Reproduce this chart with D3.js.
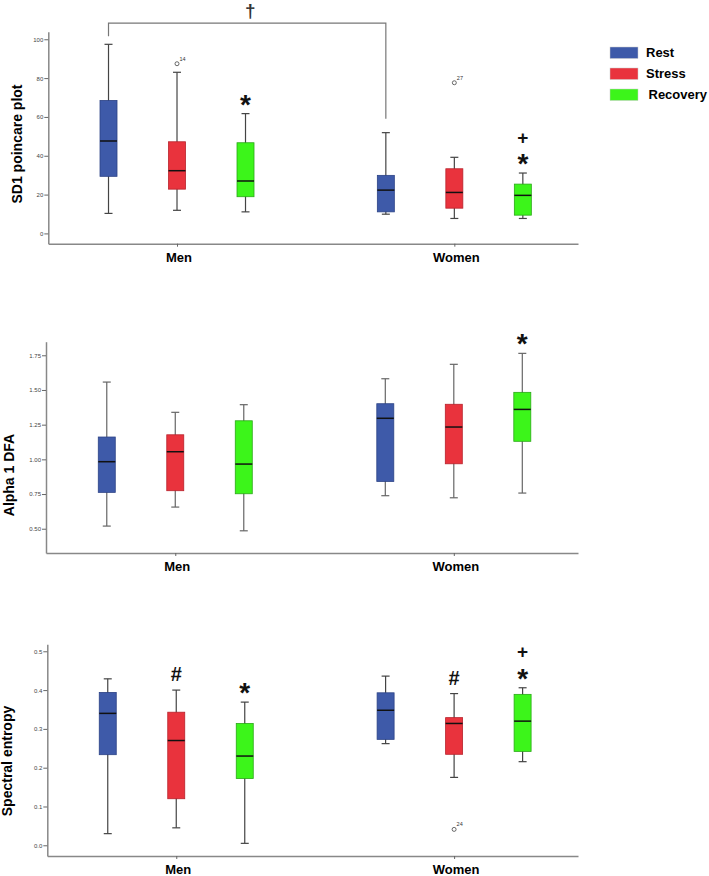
<!DOCTYPE html>
<html>
<head>
<meta charset="utf-8">
<script src="https://cdn.jsdelivr.net/npm/d3@7"></script>
<style>
  body { margin: 0; background: #fff; }
  text { font-family: "Liberation Sans", Arial, sans-serif; }
</style>
</head>
<body>
<div id="chart"></div>
<script>
const groups = ["Men", "Women"];
const series = ["Rest", "Stress", "Recovery"];

// five-number summaries [min, q1, median, q3, max], one row per group (Men, Women)
const sd1Rest = [[10.3, 29.4, 47.6, 68.5, 97.4], [9.9, 11.1, 22.3, 29.9, 51.9]];
const sd1Stress = [[11.9, 22.8, 32.3, 47.2, 83.0], [7.7, 13.0, 21.1, 33.3, 39.2]];
const sd1Recovery = [[11.1, 18.9, 27.0, 46.7, 61.7], [7.7, 9.4, 19.6, 25.4, 31.1]];
const sd1Ticks = [0, 20, 40, 60, 80, 100];
const sd1Outliers = [["Men", "Stress", 87.4, "14"], ["Women", "Stress", 77.6, "27"]];
const sd1Marks = [["Men", "Recovery", ["*"]], ["Women", "Recovery", ["*", "+"]]];
const sd1Bracket = [["Men", "Rest"], ["Women", "Rest"], "†"];

const dfaRest = [[0.519, 0.762, 0.983, 1.161, 1.557], [0.738, 0.841, 1.296, 1.401, 1.581]];
const dfaStress = [[0.656, 0.774, 1.055, 1.177, 1.339], [0.723, 0.968, 1.233, 1.397, 1.685]];
const dfaRecovery = [[0.485, 0.752, 0.966, 1.278, 1.394], [0.757, 1.130, 1.360, 1.483, 1.764]];
const dfaTicks = [0.5, 0.75, 1.0, 1.25, 1.5, 1.75];
const dfaMarks = [["Women", "Recovery", ["*"]]];

const entRest = [[0.030, 0.2335, 0.340, 0.394, 0.429], [0.262, 0.273, 0.348, 0.393, 0.436]];
const entStress = [[0.045, 0.120, 0.270, 0.343, 0.400], [0.175, 0.2345, 0.314, 0.329, 0.391]];
const entRecovery = [[0.005, 0.172, 0.230, 0.314, 0.369], [0.2155, 0.242, 0.320, 0.389, 0.406]];
const entTicks = [0, 0.1, 0.2, 0.3, 0.4, 0.5];
const entOutliers = [["Women", "Stress", 0.041, "24"]];
const entMarks = [["Men", "Stress", ["#"]], ["Men", "Recovery", ["*"]],
                  ["Women", "Stress", ["#"]], ["Women", "Recovery", ["*", "+"]]];

const colors = ["#3e5aa9", "#e9333d", "#3cf51a"];
const strokes = ["#2c4386", "#b8222b", "#2aa817"];

const width = 709, height = 876, right = 578;

const panels = [
  {title: "SD1 poincare plot", values: [sd1Rest, sd1Stress, sd1Recovery], ticks: sd1Ticks, fmt: "d",
   outliers: sd1Outliers, marks: sd1Marks, bracket: sd1Bracket, whisker: "#444",
   domain: [-5.3, 103.9], top: 31.7, bottom: 243.7, left: 48.3, labelX: 22, labelY: 144},
  {title: "Alpha 1 DFA", values: [dfaRest, dfaStress, dfaRecovery], ticks: dfaTicks, fmt: ".2f",
   outliers: [], marks: dfaMarks, whisker: "#666",
   domain: [0.325, 1.848], top: 341.7, bottom: 553, left: 46, labelX: 13.5, labelY: 475},
  {title: "Spectral entropy", values: [entRest, entStress, entRecovery], ticks: entTicks, fmt: ".1f",
   outliers: entOutliers, marks: entMarks, whisker: "#444",
   domain: [-0.0276, 0.518], top: 644.3, bottom: 856, left: 47.3, labelX: 12, labelY: 761}
];

// glyph size and centre offset from baseline (px) for the annotation symbols
const glyph = {"*": {size: 28, off: 16}, "+": {size: 19, off: 6.5}, "#": {size: 20, off: 7}};

const svg = d3.select("#chart").append("svg")
  .attr("width", width)
  .attr("height", height);

panels.forEach(drawPanel);

function drawPanel(p) {
  const y = d3.scaleLinear().domain(p.domain).range([p.bottom, p.top]);
  const x = d3.scalePoint().domain(groups).range([p.left, right]).padding(0.455).align(0.51);
  const dx = d3.scalePoint().domain(series).range([-68.5, 68.5]);
  const bw = 17, cap = 8;

  const g = svg.append("g");

  // y axis
  g.append("g")
    .attr("transform", `translate(${p.left},0)`)
    .call(d3.axisLeft(y).tickValues(p.ticks).tickFormat(d3.format(p.fmt))
      .tickSize(4).tickSizeOuter(0).tickPadding(1))
    .call(a => a.select(".domain").attr("stroke", "#888").attr("stroke-width", 1.5))
    .call(a => a.selectAll(".tick line").attr("stroke", "#666"))
    .call(a => a.selectAll(".tick text").attr("font-size", 6).attr("fill", "#444")
      .attr("font-family", "Liberation Sans, Arial, sans-serif"));

  // x axis
  g.append("g")
    .attr("transform", `translate(0,${p.bottom})`)
    .call(d3.axisBottom(x).tickSize(3).tickSizeOuter(0).tickFormat(""))
    .call(a => a.select(".domain").attr("stroke", "#888").attr("stroke-width", 1.5))
    .call(a => a.selectAll(".tick line").attr("stroke", "#666"));

  g.selectAll(".glabel")
    .data(groups)
    .join("text")
    .attr("x", d => x(d) + 2)
    .attr("y", p.bottom + 18)
    .attr("text-anchor", "middle")
    .attr("font-size", 13)
    .attr("font-weight", "bold")
    .text(d => d);

  // y title
  g.append("text")
    .attr("transform", `translate(${p.labelX},${p.labelY}) rotate(-90)`)
    .attr("text-anchor", "middle")
    .attr("font-size", 14)
    .attr("font-weight", "bold")
    .text(p.title);

  const boxes = groups.flatMap((gr, gi) => series.map((s, si) => ({
    cx: x(gr) + dx(s), v: p.values[si][gi], fill: colors[si], stroke: strokes[si]
  })));

  const box = g.selectAll(".box")
    .data(boxes)
    .join("g")
    .attr("class", "box");

  box.append("line") // whiskers
    .attr("x1", d => d.cx).attr("x2", d => d.cx)
    .attr("y1", d => y(d.v[0])).attr("y2", d => y(d.v[4]))
    .attr("stroke", p.whisker).attr("stroke-width", 1.2);

  box.selectAll(".cap")
    .data(d => [d, d].map((b, i) => ({cx: b.cx, val: b.v[i ? 4 : 0]})))
    .join("line")
    .attr("x1", d => d.cx - cap / 2).attr("x2", d => d.cx + cap / 2)
    .attr("y1", d => y(d.val)).attr("y2", d => y(d.val))
    .attr("stroke", p.whisker).attr("stroke-width", 1.2);

  box.append("rect")
    .attr("x", d => d.cx - bw / 2)
    .attr("width", bw)
    .attr("y", d => y(d.v[3]))
    .attr("height", d => y(d.v[1]) - y(d.v[3]))
    .attr("fill", d => d.fill)
    .attr("stroke", d => d.stroke)
    .attr("stroke-width", 0.8);

  box.append("line") // median
    .attr("x1", d => d.cx - bw / 2).attr("x2", d => d.cx + bw / 2)
    .attr("y1", d => y(d.v[2])).attr("y2", d => y(d.v[2]))
    .attr("stroke", "#111").attr("stroke-width", 1.5);

  // outliers
  const out = g.selectAll(".out")
    .data(p.outliers)
    .join("g");
  out.append("circle")
    .attr("cx", d => x(d[0]) + dx(d[1]))
    .attr("cy", d => y(d[2]))
    .attr("r", 2)
    .attr("fill", "#fff")
    .attr("stroke", "#444")
    .attr("stroke-width", 0.8);
  out.append("text")
    .attr("x", d => x(d[0]) + dx(d[1]) + 2.5)
    .attr("y", d => y(d[2]) - 3)
    .attr("font-size", 5.5)
    .attr("fill", "#333")
    .text(d => d[3]);

  // significance marks above whiskers, stacked in one text per box
  const stacks = g.selectAll(".mark")
    .data(p.marks)
    .join("text")
    .attr("class", "mark")
    .attr("text-anchor", "middle")
    .attr("font-weight", "bold")
    .attr("fill", "#111");
  stacks.selectAll("tspan")
    .data(([gr, s, syms]) => {
      const top = y(p.values[series.indexOf(s)][groups.indexOf(gr)][4]);
      return syms.map((sym, i) => ({x: x(gr) + dx(s), cy: top - 16 - i * 20, sym}));
    })
    .join("tspan")
    .attr("x", d => d.x)
    .attr("y", d => d.cy + glyph[d.sym].off)
    .attr("font-size", d => glyph[d.sym].size)
    .text(d => d.sym);

  // bracket between groups
  if (p.bracket) {
    const [a, b, sym] = p.bracket;
    const xa = x(a[0]) + dx(a[1]), xb = x(b[0]) + dx(b[1]);
    const ya = y(p.values[series.indexOf(a[1])][groups.indexOf(a[0])][4]);
    const yb = y(p.values[series.indexOf(b[1])][groups.indexOf(b[0])][4]);
    const by = p.top - 8.5;
    g.append("path")
      .attr("d", `M${xa},${ya - 8}V${by}H${xb}V${yb - 14}`)
      .attr("fill", "none")
      .attr("stroke", "#777")
      .attr("stroke-width", 1.2);
    g.append("text")
      .attr("x", (xa + xb) / 2 + 3)
      .attr("y", 17)
      .attr("text-anchor", "middle")
      .attr("font-size", 19)
      .attr("font-weight", "bold")
      .attr("fill", "#333")
      .text(sym);
  }
}

// legend
const ly = d3.scalePoint().domain(series).range([47, 89]);
const legend = svg.append("g")
  .selectAll("g")
  .data(series)
  .join("g");
legend.append("rect")
  .attr("x", 610)
  .attr("y", d => ly(d))
  .attr("width", 28)
  .attr("height", 11.5)
  .attr("fill", (d, i) => colors[i])
  .attr("stroke", "#ccc")
  .attr("stroke-width", 0.5);
legend.append("text")
  .attr("x", (d, i) => i === 2 ? 648.5 : 646)
  .attr("y", d => ly(d) + 10)
  .attr("font-size", 13)
  .attr("font-weight", "bold")
  .text(d => d);
</script>
</body>
</html>
